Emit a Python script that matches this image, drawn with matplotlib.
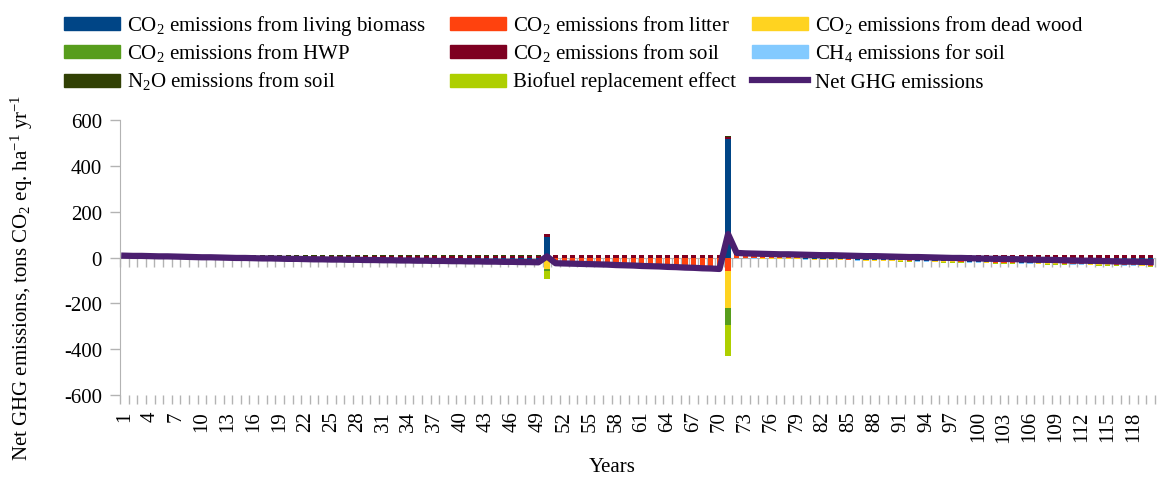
import matplotlib
matplotlib.use("Agg")
import matplotlib.pyplot as plt
from matplotlib.patches import Rectangle
from matplotlib.lines import Line2D
import numpy as np

plt.rcParams['font.family'] = ['Liberation Serif', 'DejaVu Serif']
plt.rcParams['mathtext.fontset'] = 'custom'
plt.rcParams['mathtext.rm'] = 'Liberation Serif'
plt.rcParams['mathtext.it'] = 'Liberation Serif:italic'
plt.rcParams['axes.unicode_minus'] = False

years = np.arange(1, 121)

# emissions by source, tons CO2 eq. per ha and year (years 1..120)
living_biomass = [
    0, -1, -1, -2, -2, -3, -3, -4, -4, -5,
    -5, -6, -6, -7, -7, -8, -8, -9, -9, -10,
    -10, -11, -11, -12, -12, -13, -13, -14, -14, -15,
    -15, -16, -16, -17, -17, -18, -18, -19, -19, -20,
    -20, -21, -21, -22, -22, -23, -23, -24, -24, 90,
    0, 0, 0, 0, -1, -1, -1, -1, -1, -1,
    -1, -1, -1, -1, -1, -1, -2, -2, -2, -2,
    517, 0, 0, -1, -2, -2, -3, -4, -4, -5,
    -6, -6, -7, -8, -8, -9, -10, -10, -11, -12,
    -12, -13, -14, -14, -15, -16, -16, -17, -18, -18,
    -19, -20, -20, -21, -22, -22, -23, -24, -24, -25,
    -26, -26, -27, -28, -28, -29, -30, -30, -31, -32]
litter = [
    -1, -1, -1, -1, -1, -1, -1, -1, -1, -1,
    -1, -1, -1, -1, -1, -1, -1, -1, -1, -1,
    -1, -1, -1, -1, -1, -1, -1, -1, -1, -1,
    -1, -1, -1, -1, -1, -1, -1, -1, -1, -1,
    -1, -1, -1, -1, -1, -1, -1, -1, -1, -8,
    -20, -21, -22, -23, -24, -25, -26, -27, -28, -29,
    -30, -31, -32, -33, -34, -35, -36, -37, -38, -40,
    -60, 10, 9, 8, 7, 6, 5, 4, 3, 2,
    1, 1, 0, 0, -1, -1, -1, -1, -1, -1,
    -1, -1, -1, -1, -1, -1, -1, -1, -1, -1,
    -2, -2, -2, -2, -2, -2, -2, -2, -2, -2,
    -2, -2, -2, -2, -2, -2, -2, -2, -2, -3]
dead_wood = [
    -1, -1, -1, -1, -1, -1, -1, -1, -1, -1,
    -1, -1, -1, -1, -1, -1, -1, -1, -1, -1,
    -1, -1, -1, -1, -1, -1, -1, -1, -1, -1,
    -1, -1, -1, -1, -1, -1, -1, -1, -1, -1,
    -1, -1, -1, -1, -1, -1, -1, -1, -1, -40,
    -2, -2, -2, -2, -2, -2, -2, -2, -2, -2,
    -2, -2, -2, -2, -2, -2, -2, -2, -2, -2,
    -160, -3, -3, -3, -3, -3, -3, -3, -3, -3,
    -3, -3, -3, -3, -3, -3, -3, -3, -3, -3,
    -2, -2, -2, -2, -2, -2, -2, -2, -2, -2,
    -2, -2, -2, -2, -2, -2, -2, -2, -2, -2,
    -2, -2, -2, -2, -2, -2, -2, -2, -2, -2]
hwp = [
    0, 0, 0, 0, 0, 0, 0, 0, 0, 0,
    0, 0, 0, 0, 0, 0, 0, 0, 0, 0,
    0, 0, 0, 0, 0, 0, 0, 0, 0, 0,
    0, 0, 0, 0, 0, 0, 0, 0, 0, 0,
    0, 0, 0, 0, 0, 0, 0, 0, 0, -12,
    0, 0, 0, 0, 0, 0, 0, 0, 0, 0,
    0, 0, 0, 0, 0, 0, 0, 0, 0, 0,
    -75, 0, 0, 0, 0, -1, -1, 0, 0, 0,
    0, 0, 0, 0, 0, 0, 0, 0, 0, 0,
    0, 0, 0, 0, 0, 0, 0, 0, 0, 0,
    0, 0, 0, 0, 0, 0, 0, 0, 0, 0,
    0, 0, 0, 0, 0, 0, 0, 0, 0, 0]
soil_co2 = [
    6, 6, 7, 7, 7, 7, 8, 8, 8, 8,
    8, 8, 8, 8, 8, 8, 8, 8, 8, 8,
    8, 8, 8, 8, 8, 8, 8, 8, 8, 8,
    8, 8, 8, 8, 8, 8, 8, 8, 8, 8,
    8, 8, 8, 8, 8, 8, 8, 8, 8, 13,
    10, 10, 10, 10, 10, 10, 10, 10, 10, 10,
    10, 10, 10, 10, 10, 10, 10, 10, 10, 10,
    10, 8, 8, 8, 8, 8, 8, 8, 8, 8,
    9, 9, 9, 10, 11, 12, 12, 12, 12, 12,
    12, 12, 12, 12, 12, 12, 12, 12, 12, 12,
    12, 12, 12, 12, 12, 12, 12, 12, 12, 12,
    12, 12, 12, 12, 12, 12, 12, 12, 12, 12]
soil_ch4 = [
    -1, -1, -1, -1, -1, -1, -1, -1, -1, -1,
    -1, -1, -1, -1, -1, -1, -1, -1, -1, -1,
    -1, -1, -1, -1, -1, -1, -1, -1, -1, -1,
    -1, -1, -1, -1, -1, -1, -1, -1, -1, -1,
    -1, -1, -1, -1, -1, -1, -1, -1, -1, 0,
    -1, -1, -1, -1, -1, -1, -1, -1, -1, -1,
    -1, -1, -1, -1, -1, -1, -1, -1, -1, -1,
    0, -1, -1, -1, -1, -1, -1, -1, -1, -1,
    -1, -1, -1, -1, -1, -1, -1, -1, -1, -1,
    -1, -1, -1, -1, -1, -1, -1, -1, -1, -1,
    -1, -1, -1, -1, -1, -1, -1, -1, -1, -1,
    -1, -1, -1, -1, -1, -1, -1, -1, -1, -1]
soil_n2o = [
    2, 2, 2, 2, 2, 2, 2, 2, 2, 2,
    2, 2, 2, 2, 2, 2, 2, 2, 2, 2,
    2, 2, 2, 2, 2, 2, 2, 2, 2, 2,
    2, 2, 2, 2, 2, 2, 2, 2, 2, 2,
    2, 2, 2, 2, 2, 2, 2, 2, 2, 1,
    2, 2, 2, 2, 2, 2, 2, 2, 2, 2,
    2, 2, 2, 2, 2, 2, 2, 2, 2, 2,
    5, 1, 1, 1, 1, 1, 1, 1, 1, 1,
    1, 1, 1, 3, 3, 3, 3, 3, 1, 1,
    1, 1, 1, 1, 1, 1, 1, 1, 1, 1,
    1, 1, 1, 1, 1, 1, 1, 1, 1, 1,
    1, 1, 1, 1, 1, 1, 1, 1, 1, 1]
biofuel = [
    0, 0, 0, 0, 0, 0, 0, 0, 0, 0,
    0, 0, 0, 0, 0, 0, 0, 0, 0, 0,
    0, 0, 0, 0, 0, 0, 0, 0, 0, 0,
    0, 0, 0, 0, 0, 0, 0, 0, 0, 0,
    0, 0, 0, 0, 0, 0, 0, 0, 0, -35,
    0, 0, 0, 0, 0, 0, 0, 0, 0, 0,
    0, 0, 0, 0, 0, 0, 0, 0, 0, 0,
    -135, 0, 0, 0, 0, 0, 0, 0, 0, 0,
    0, 0, 0, 0, 0, 0, 0, 0, 0, 0,
    -2, -2, -2, -2, -2, -2, -2, -2, -2, -2,
    -2, -2, -2, -2, -2, -2, -2, -2, -2, -2,
    -2, -2, -2, -2, -2, -2, -2, -2, -2, -2]
net_ghg = [
    8, 7, 7, 6, 5, 5, 4, 3, 2, 1,
    1, 0, -1, -2, -2, -3, -4, -4, -5, -6,
    -6, -7, -8, -8, -9, -9, -10, -10, -11, -11,
    -12, -12, -13, -13, -14, -14, -15, -15, -16, -16,
    -17, -17, -18, -18, -19, -19, -20, -20, -21, 5,
    -25, -26, -27, -28, -29, -30, -31, -33, -34, -35,
    -37, -38, -39, -41, -42, -44, -45, -47, -48, -50,
    102, 20, 18, 17, 16, 15, 14, 14, 13, 12,
    11, 10, 10, 9, 8, 7, 6, 6, 5, 4,
    3, 2, 2, 1, 0, -1, -2, -2, -3, -4,
    -5, -6, -6, -7, -8, -9, -10, -10, -11, -12,
    -13, -14, -14, -15, -16, -17, -18, -18, -19, -20]

series = [
    (living_biomass, '#004586', 'CO$_2$ emissions from living biomass'),
    (litter, '#ff420e', 'CO$_2$ emissions from litter'),
    (dead_wood, '#ffd320', 'CO$_2$ emissions from dead wood'),
    (hwp, '#579d1c', 'CO$_2$ emissions from HWP'),
    (soil_co2, '#7e0021', 'CO$_2$ emissions from soil'),
    (soil_ch4, '#83caff', 'CH$_4$ emissions for soil'),
    (soil_n2o, '#314004', 'N$_2$O emissions from soil'),
    (biofuel, '#aecf00', 'Biofuel replacement effect'),
]
net_color = '#4b1f6f'

fs = 15
W, H = 1158, 481
fig = plt.figure(figsize=(W / 100, H / 100), dpi=100)
ax = fig.add_axes([120 / W, 1 - 396 / H, 1035 / W, 275 / H])

gray = '#b3b3b3'
pos_base = np.zeros(len(years))
neg_base = np.zeros(len(years))
for vals, col, lab in series:
    v = np.array(vals, dtype=float)
    bottom = np.where(v >= 0, pos_base, neg_base)
    ax.bar(years, v, bottom=bottom, width=0.6, color=col, label=lab, zorder=2)
    pos_base = pos_base + np.clip(v, 0, None)
    neg_base = neg_base + np.clip(v, None, 0)

ax.plot(years, net_ghg, color=net_color, lw=4.5, zorder=3, label='Net GHG emissions')

ax.set_xlim(0.5, 120.5)
ax.set_ylim(-600, 600)
ax.set_yticks(np.arange(-600, 601, 200))

for s in ['top', 'right', 'bottom']:
    ax.spines[s].set_visible(False)
ax.spines['left'].set_color(gray)
ax.tick_params(axis='y', colors=gray, length=7, width=1, pad=6,
               labelcolor='black', labelsize=fs)

# year labels along the bottom, category ticks between years
ax.set_xticks(years[::3])
ax.set_xticklabels([str(y) for y in years[::3]], rotation=90)
ax.set_xticks(np.arange(0.5, 121, 1), minor=True)
ax.tick_params(axis='x', which='major', length=0, pad=11, labelsize=fs)
ax.tick_params(axis='x', which='minor', length=6.5, width=1, color=gray)

# category axis crossing at zero
zax = ax.secondary_xaxis(0.5)
zax.set_alignment('bottom')
zax.set_xticks([])
zax.set_xticks(np.arange(0.5, 121, 1), minor=True)
zax.tick_params(which='minor', length=6.5, width=1, color=gray)
zax.spines['bottom'].set_color(gray)

fig.text(22 / W, 1 - 278 / H,
         'Net GHG emissions, tons CO$_2$ eq. ha$^{-1}$ yr$^{-1}$',
         rotation=90, ha='center', va='center', fontsize=fs)
fig.text(612 / W, 1 - 468 / H, 'Years', ha='center', va='center', fontsize=fs)

# legend: three rows of three entries, filled row by row
entries = [(col, lab, 'patch') for _, col, lab in series] + [(net_color, 'Net GHG emissions', 'line')]
col_x = [64, 450, 752]
row_y = [24, 52.5, 81]
key_w, key_h = 56, 13
for i, (col, lab, kind) in enumerate(entries):
    x0 = col_x[i % 3]
    yc = row_y[i // 3]
    if kind == 'patch':
        fig.add_artist(Rectangle((x0 / W, 1 - (yc + key_h / 2) / H), key_w / W, key_h / H,
                                 transform=fig.transFigure, color=col))
    else:
        fig.add_artist(Line2D([x0 / W, (x0 + key_w) / W], [1 - yc / H, 1 - yc / H],
                              transform=fig.transFigure, color=col, lw=4.5))
    fig.text((x0 + key_w + 7) / W, 1 - (yc + 6.5) / H, lab, fontsize=fs,
             ha='left', va='baseline')

fig.savefig('out.png', dpi=100)
